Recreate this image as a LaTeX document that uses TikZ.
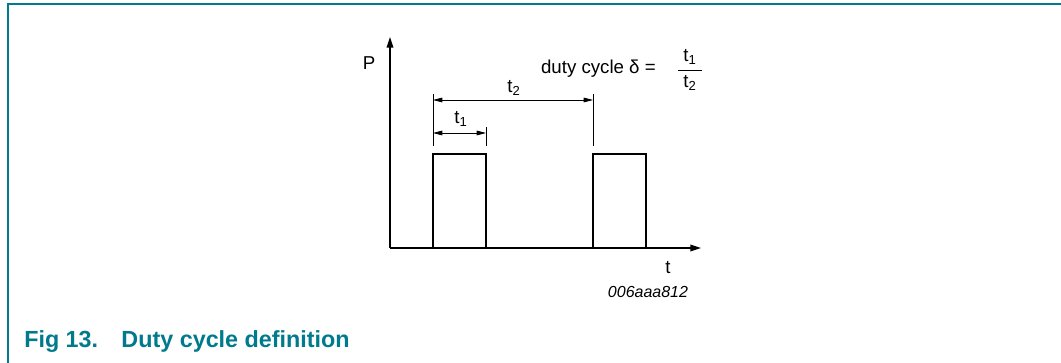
\documentclass[tikz,border=0pt]{standalone}
\usepackage{fontspec}
\setmainfont{Liberation Sans}
\usetikzlibrary{arrows.meta}
\definecolor{nxpteal}{RGB}{0,122,140}

\begin{document}
\begin{tikzpicture}[x=0.75pt,y=-0.75pt,
  axis/.style={line width=1pt, -{Triangle[length=8pt,width=5pt]}},
  wave/.style={line width=2.2pt, line join=miter},
  dimline/.style={line width=0.6pt, {Triangle[length=7pt,width=3.5pt]}-{Triangle[length=7pt,width=3.5pt]}},
  extline/.style={line width=0.5pt},
  lbl/.style={font=\fontsize{14}{16}\selectfont, inner sep=0pt}]
\useasboundingbox (0,0) rectangle (1061,363);
% frame
\draw[nxpteal, line width=1.2pt] (8,363) -- (8,4) -- (1061,4);
% axes
\coordinate (o) at (390,248);
\coordinate (ytop) at (390,37);
\coordinate (xend) at (701,248);
\draw[axis] (o) -- (ytop);
\draw[axis] (o) -- (xend);
% pulse train
\draw[wave] (o) -- (433,248) -- (433,154) -- (486,154) -- (486,248)
  -- (593,248) -- (593,154) -- (646,154) -- (646,248) -- (690,248);
% dimension lines
\coordinate (a1) at (433,100);
\coordinate (a2) at (593,100);
\coordinate (b1) at (433,133);
\coordinate (b2) at (486,133);
\draw[extline] (433,94) -- (433,146);
\draw[extline] (593,94) -- (593,146);
\draw[extline] (486,127) -- (486,146);
\draw[dimline] (a1) -- (a2);
\draw[dimline] (b1) -- (b2);
\node[lbl] (t2) at (514,88) {t\textsubscript{2}};
\node[lbl] (t1) at (461,119) {t\textsubscript{1}};
% labels
\node[lbl] (P) at (369,63) {P};
\node[lbl] (t) at (668,268) {t};
\node[lbl, anchor=east] (duty) at (656,69) {duty cycle δ =};
\node[lbl] (num) at (690,57) {t\textsubscript{1}};
\node[lbl] (den) at (690,83) {t\textsubscript{2}};
\draw[line width=0.6pt] (678,70) -- (702,70);
\node[lbl, font=\fontsize{12}{14}\selectfont\itshape] (code) at (648,292) {006aaa812};
\node[anchor=west, inner sep=0pt, text=nxpteal, font=\fontsize{17.5}{20}\selectfont\bfseries] (cap) at (24,342) {Fig 13.\hspace{1em}Duty cycle definition};
\end{tikzpicture}
\end{document}
